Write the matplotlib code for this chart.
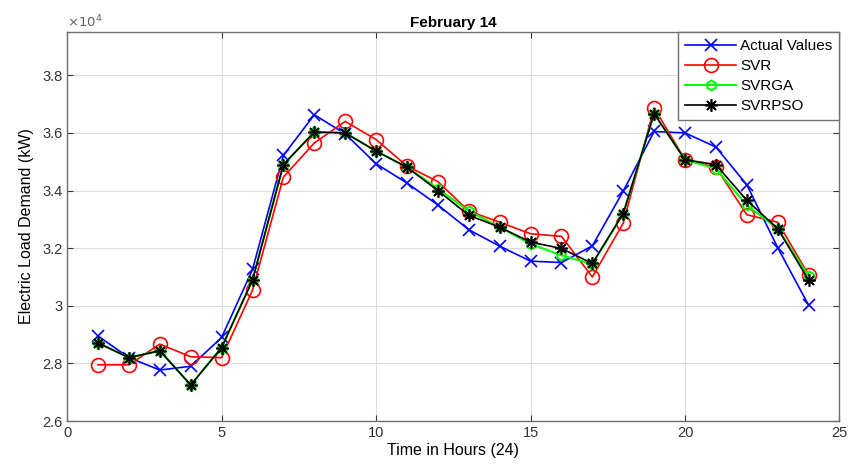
import numpy as np
import matplotlib
matplotlib.use("Agg")
from matplotlib import pyplot as plt
from matplotlib.ticker import FuncFormatter

plt.rcParams['font.family'] = ['Liberation Sans', 'DejaVu Sans']

# hours and load values (kW)
hours = np.arange(1, 25)
actual = [28950, 28200, 27770, 27900, 28900, 31260, 35220, 36630, 35970, 34930, 34260, 33500,
          32640, 32070, 31550, 31500, 32080, 33980, 36050, 36000, 35510, 34200, 32020, 30020]
svr = [27950, 27950, 28670, 28230, 28200, 30540, 34470, 35650, 36400, 35770, 34850, 34310,
       33290, 32900, 32500, 32410, 31000, 32870, 36870, 35070, 34810, 33160, 32900, 31080]
svrga = [28710, 28200, 28440, 27250, 28550, 30900, 34900, 36030, 36000, 35370, 34810, 34070,
         33290, 32730, 32150, 31750, 31450, 33200, 36670, 35070, 34760, 33490, 32680, 31030]
svrpso = [28710, 28200, 28440, 27250, 28550, 30890, 34900, 36030, 36000, 35370, 34810, 34000,
          33140, 32730, 32210, 31990, 31470, 33200, 36670, 35070, 34900, 33660, 32680, 30890]

fig = plt.figure(figsize=(8.61, 4.72), dpi=100)
ax = fig.add_axes([0.078, 0.108, 0.897, 0.824])

ax.plot(hours, actual, color='blue', marker='x', ms=9, mew=1.2, lw=1.2, label='Actual Values')
ax.plot(hours, svr, color='red', marker='o', ms=10, mfc='none', mew=1.2, lw=1.2, label='SVR')
ax.plot(hours, svrga, color='lime', marker='h', ms=7, mfc='none', mew=1.5, lw=1.5, label='SVRGA')
ax.plot(hours, svrpso, color='black', marker=(8, 2, 0), ms=9, mew=1.2, lw=1.2, label='SVRPSO')

ax.set_xlim(0, 25)
ax.set_ylim(26000, 39500)
ax.set_xticks(np.arange(0, 26, 5))
ax.set_yticks(np.arange(26000, 38001, 2000))
ax.yaxis.set_major_formatter(FuncFormatter(lambda v, p: '%g' % (v / 1e4)))
ax.grid(True, color='#dcdcdc', lw=0.8)
ax.tick_params(direction='in', length=4, colors='#333333', labelsize=10.5, top=True, right=True,
               labeltop=False, labelright=False)
for s in ax.spines.values():
    s.set_color('#707070')
    s.set_linewidth(1.0)

ax.text(0.0, 1.005, r'$\times10^4$', transform=ax.transAxes, fontsize=9.5, color='#606060',
        va='bottom', ha='left')
ax.set_title('February 14', fontsize=11, fontweight='bold', pad=4)
ax.set_xlabel('Time in Hours (24)', fontsize=11.5, labelpad=2)
ax.set_ylabel('Electric Load Demand (kW)', fontsize=11.5, labelpad=6)

leg = ax.legend(loc='upper right', borderaxespad=0, fancybox=False, fontsize=11,
                handlelength=3.3, labelspacing=0.4, borderpad=0.45, handletextpad=0.3,
                framealpha=1)
leg.get_frame().set_edgecolor('#707070')
leg.get_frame().set_linewidth(1.0)

fig.savefig('out.png', dpi=100)
